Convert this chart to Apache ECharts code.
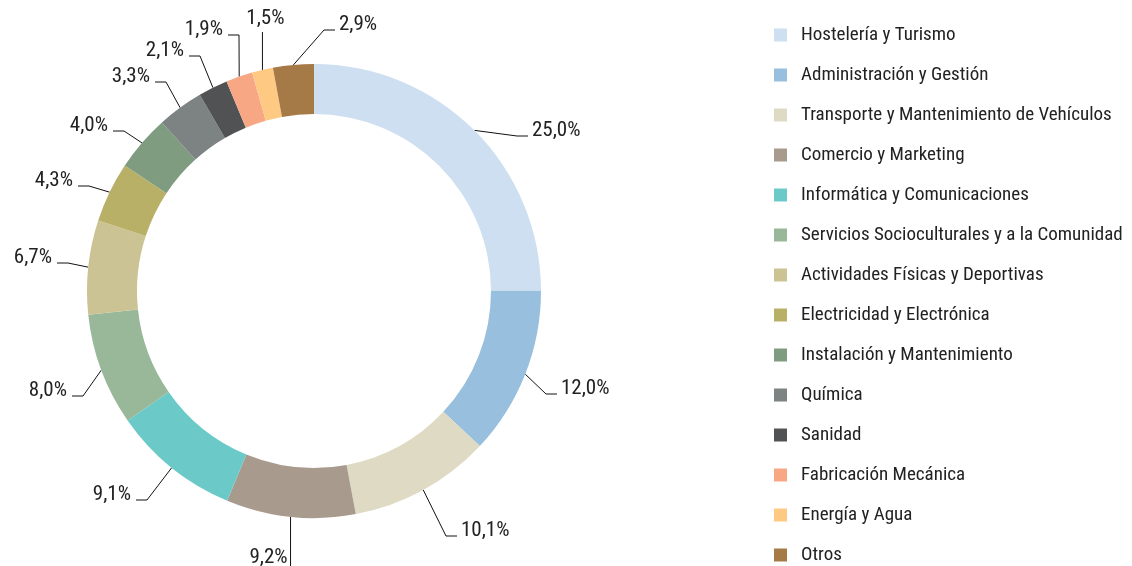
<!DOCTYPE html>
<html>
<head>
<meta charset="utf-8">
<script src="https://cdn.jsdelivr.net/npm/echarts@6/dist/echarts.min.js"></script>
<style>
  html, body { margin: 0; padding: 0; background: #ffffff; }
  #chart { width: 1132px; height: 566px; }
</style>
</head>
<body>
<div id="chart"></div>
<script>
// Distribución por familia profesional (%)
const categories = [
  'Hostelería y Turismo',
  'Administración y Gestión',
  'Transporte y Mantenimiento de Vehículos',
  'Comercio y Marketing',
  'Informática y Comunicaciones',
  'Servicios Socioculturales y a la Comunidad',
  'Actividades Físicas y Deportivas',
  'Electricidad y Electrónica',
  'Instalación y Mantenimiento',
  'Química',
  'Sanidad',
  'Fabricación Mecánica',
  'Energía y Agua',
  'Otros'
];
const values = [25.0, 12.0, 10.1, 9.2, 9.1, 8.0, 6.7, 4.3, 4.0, 3.3, 2.1, 1.9, 1.5, 2.9];

const colors = [
  '#cddff0', '#98bfdd', '#dedac3', '#a89a8c', '#6bcac8', '#98b899', '#cbc393',
  '#b7b066', '#7f9b80', '#7d8283', '#505254', '#f7a784', '#fec983', '#a57a46'
];

// Ring geometry
const CENTER = [314, 291];
const R_INNER = 177;
const R_OUTER = 227;

// Leader-line bend point for each label and the direction the label sits in:
// 'r' / 'l' = short horizontal tail then text, 'd' / 'u' = straight vertical line.
const labelElbows = [
  [517, 136, 'r'], [546, 394, 'r'], [446, 536, 'r'], [290, 566, 'd'],
  [147, 500, 'l'], [83, 396, 'l'], [68, 263, 'l'], [89, 186, 'l'],
  [124, 131, 'l'], [166, 82, 'l'], [200, 56, 'l'], [239, 35, 'l'],
  [262, 32, 'u'], [324, 30, 'r']
];

const FONT = '"Roboto Condensed", "Roboto", sans-serif';
const TAIL = 11;

// Anchor on the outer edge at the middle angle of each slice
const total = values.reduce((a, b) => a + b, 0);
function sliceAnchor(i) {
  let cum = 0;
  for (let k = 0; k < i; k++) cum += values[k];
  const frac = (cum + values[i] / 2) / total;
  const ang = frac * 2 * Math.PI; // clockwise from 12 o'clock
  return [CENTER[0] + R_OUTER * Math.sin(ang), CENTER[1] - R_OUTER * Math.cos(ang)];
}

const chart = echarts.init(document.getElementById('chart'), null, { renderer: 'canvas' });

chart.setOption({
  animation: false,
  color: colors,
  legend: {
    orient: 'vertical',
    left: 774,
    top: 25,
    padding: 0,
    itemWidth: 13,
    itemHeight: 13,
    itemGap: 20,
    icon: 'rect',
    selectedMode: false,
    textStyle: {
      fontFamily: FONT,
      fontSize: 19,
      color: '#222222',
      lineHeight: 20,
      padding: [0, 0, 0, 9]
    },
    data: categories
  },
  series: [{
    type: 'pie',
    center: CENTER,
    radius: [R_INNER, R_OUTER],
    startAngle: 90,
    clockwise: true,
    avoidLabelOverlap: false,
    itemStyle: { borderWidth: 0 },
    label: {
      show: true,
      fontFamily: FONT,
      fontSize: 21,
      color: '#222222',
      formatter: p => p.value.toFixed(1).replace('.', ',') + '%'
    },
    labelLine: {
      show: true,
      length: 20,
      length2: 10,
      lineStyle: { color: '#111111', width: 1 }
    },
    labelLayout: function (params) {
      const i = params.dataIndex;
      const a = sliceAnchor(i);
      const [ex, ey, dir] = labelElbows[i];
      if (dir === 'r') {
        return {
          x: ex + TAIL + 4, y: ey - 5, align: 'left', verticalAlign: 'middle',
          labelLinePoints: [a, [ex, ey], [ex + TAIL, ey]]
        };
      }
      if (dir === 'l') {
        return {
          x: ex - TAIL - 5, y: ey - 5, align: 'right', verticalAlign: 'middle',
          labelLinePoints: [a, [ex, ey], [ex - TAIL, ey]]
        };
      }
      if (dir === 'd') {
        return {
          x: a[0] - 3, y: ey - 8, align: 'right', verticalAlign: 'middle',
          labelLinePoints: [a, [a[0], ey], [a[0], ey]]
        };
      }
      return {
        x: a[0] + 3, y: ey - 13, align: 'center', verticalAlign: 'middle',
        labelLinePoints: [a, [a[0], ey], [a[0], ey]]
      };
    },
    emphasis: { disabled: true },
    data: categories.map((name, i) => ({ name, value: values[i] }))
  }]
});
</script>
</body>
</html>
